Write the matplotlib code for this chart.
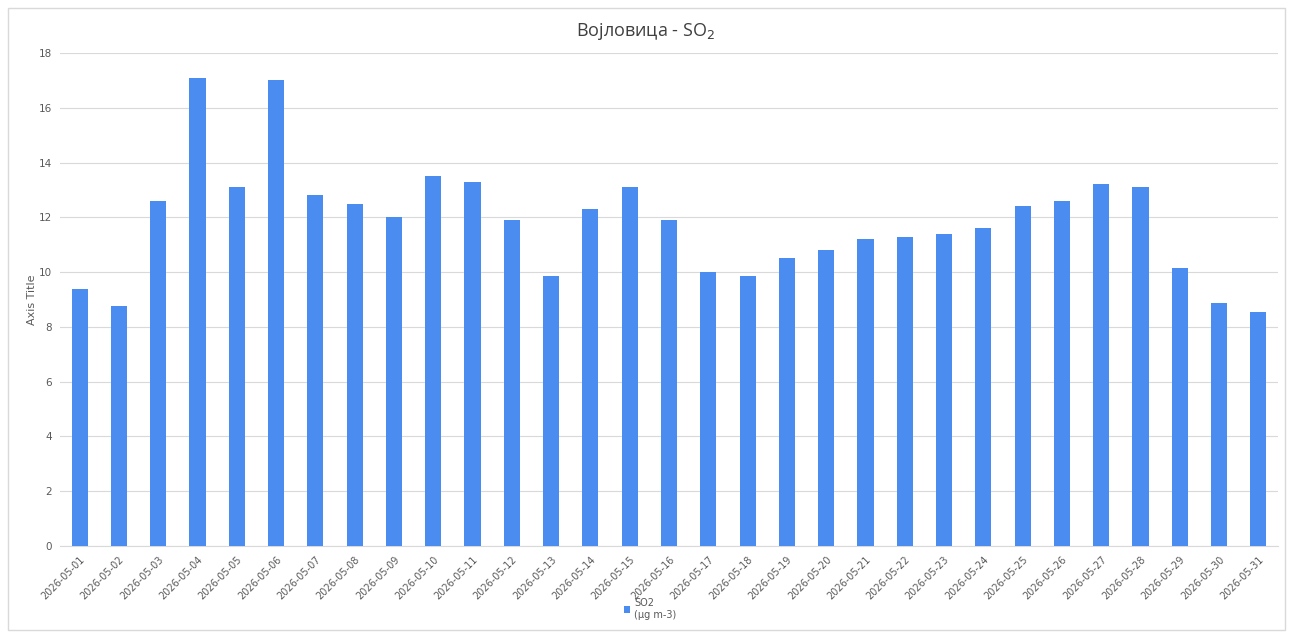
import matplotlib
matplotlib.use("Agg")
import matplotlib.pyplot as plt
from matplotlib.patches import Rectangle

dates = [f"2026-05-{d:02d}" for d in range(1, 32)]
so2 = [9.4, 8.75, 12.6, 17.1, 13.1, 17.0, 12.8, 12.5, 12.0, 13.5,
       13.3, 11.9, 9.85, 12.3, 13.1, 11.9, 10.0, 9.85, 10.5, 10.8,
       11.2, 11.3, 11.4, 11.6, 12.4, 12.6, 13.2, 13.1, 10.15, 8.87, 8.55]
yticks = [0, 2, 4, 6, 8, 10, 12, 14, 16, 18]

color = "#4A8CF0"
fig = plt.figure(figsize=(12.92, 6.34), dpi=100)
fig.patches.append(Rectangle((8/1292, 4/634), 1277/1292, 622/634, transform=fig.transFigure,
                             fill=False, edgecolor="#d9d9d9", linewidth=1))
ax = fig.add_axes([60/1292, 1-546/634, 1218/1292, 493/634])
x = list(range(len(dates)))
ax.bar(x, so2, width=0.41, color=color, zorder=3, label="SO2\n(µg m-3)")
ax.set_xlim(-0.5, 30.5)
ax.set_ylim(0, 18)
ax.set_yticks(yticks)
ax.set_yticklabels([str(v) for v in yticks], fontsize=7.5, color="#595959")
ax.set_xticks(x)
ax.set_xticklabels(dates, rotation=45, ha="right", rotation_mode="anchor",
                   fontsize=7, color="#595959")
ax.tick_params(axis="both", length=0, pad=6)
ax.grid(axis="y", color="#d9d9d9", linewidth=0.8, zorder=0)
for s in ["left", "right", "top"]:
    ax.spines[s].set_visible(False)
ax.spines["bottom"].set_color("#d9d9d9")
ax.set_ylabel("Axis Title", fontsize=8, color="#595959", labelpad=1)
fig.text(0.5, 1-31/634, "Војловица - SO$_2$", ha="center", va="center",
         fontsize=13, color="#404040", family="Open Sans")
leg = fig.legend(loc="center", bbox_to_anchor=(650/1292, 1-609/634), frameon=False,
                 fontsize=7, handlelength=0.7, handleheight=0.7, handletextpad=0.4,
                 labelcolor="#595959")
fig.savefig("out.png", dpi=100, facecolor="white")
